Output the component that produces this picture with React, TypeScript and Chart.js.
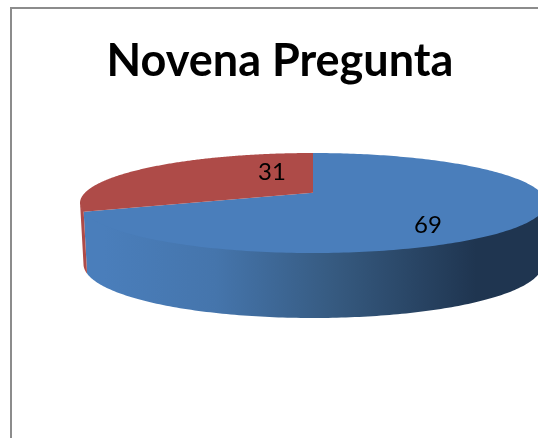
import React, { useEffect, useRef } from "react";
import { Chart, registerables } from "chart.js";

Chart.register(...registerables);

const categories = ["1", "2"];
const seriesValues = [69, 31];
const sliceColors = ["#4a7ebb", "#ae4b48"];
const wallStops = [
  ["#4a7ebb", "#4575ac", "#365a80", "#1f3550"],
  ["#ae4b48", "#a84845", "#8a3a38", "#6e2e2c"],
];
const wallStopOffsets = [0, 0.3, 0.62, 1];
const titleText = "Novena Pregunta";

const TILT = 0.21;
const PERSPECTIVE = 0.206;
const DEPTH_SIDE = 60;
const DEPTH_FRONT = 65;
const WALL_TAPER = 0.985;
const PIE_SHIFT_X = 33;
// label anchors as fractions of the disc's radii
const labelAnchors = [
  [0.504, 0.69],
  [-0.18, -0.43],
];

const pie3d = {
  id: "pie3d",
  beforeDatasetsDraw(chart: any) {
    const ctx = chart.ctx;
    const arcs = chart.getDatasetMeta(0).data;
    const first = arcs[0];
    const cx = first.x + PIE_SHIFT_X;
    const cy = first.y;
    const rx = first.outerRadius;
    const ry = rx * TILT;
    const proj = (t: number) => {
      const u = Math.cos(t);
      const v = Math.sin(t);
      const w = 1 - PERSPECTIVE * v;
      return [cx + (rx * u) / w, cy + (ry * v) / w];
    };
    const lo = Math.asin(PERSPECTIVE);
    const hi = Math.PI - lo;
    const extent = rx / Math.sqrt(1 - PERSPECTIVE * PERSPECTIVE);

    // side wall
    arcs.forEach((arc: any, i: number) => {
      const a = Math.max(arc.startAngle, lo);
      const b = Math.min(arc.endAngle, hi);
      if (b <= a) return;
      const g = ctx.createLinearGradient(cx - extent * 0.9, 0, cx + extent * 0.7, 0);
      wallStopOffsets.forEach((o, s) => g.addColorStop(o, wallStops[i][s]));
      ctx.beginPath();
      const n = 160;
      for (let k = 0; k <= n; k++) {
        const [x, y] = proj(a + ((b - a) * k) / n);
        k ? ctx.lineTo(x, y - 1) : ctx.moveTo(x, y - 1);
      }
      for (let k = n; k >= 0; k--) {
        const t = a + ((b - a) * k) / n;
        const [x, y] = proj(t);
        ctx.lineTo(
          cx + (x - cx) * WALL_TAPER,
          y + DEPTH_SIDE + (DEPTH_FRONT - DEPTH_SIDE) * Math.sin(t)
        );
      }
      ctx.closePath();
      ctx.fillStyle = g;
      ctx.fill();
    });

    // top face
    arcs.forEach((arc: any) => {
      ctx.beginPath();
      ctx.moveTo(cx, cy);
      const n = 240;
      for (let k = 0; k <= n; k++) {
        const [x, y] = proj(arc.startAngle + ((arc.endAngle - arc.startAngle) * k) / n);
        ctx.lineTo(x, y);
      }
      ctx.closePath();
      ctx.fillStyle = arc.options.backgroundColor;
      ctx.fill();
    });

    // value labels
    ctx.fillStyle = "#000000";
    ctx.font = '24px Lato, "Open Sans", sans-serif';
    ctx.textAlign = "center";
    ctx.textBaseline = "middle";
    arcs.forEach((_: any, i: number) => {
      const [ax, ay] = labelAnchors[i];
      ctx.fillText(String(seriesValues[i]), cx + rx * ax, cy + ry * ay);
    });
    return false;
  },
};

export default function App() {
  const ref = useRef<HTMLCanvasElement>(null);
  useEffect(() => {
    document.body.style.margin = "0";
    document.body.style.overflow = "hidden";
    const chart = new Chart(ref.current!, {
      type: "pie",
      data: {
        labels: categories,
        datasets: [{ data: seriesValues, backgroundColor: sliceColors, borderWidth: 0 }],
      },
      options: {
        animation: false,
        responsive: false,
        radius: 228,
        layout: { padding: { left: 0, right: 0, top: 0, bottom: 141.6 } },
        plugins: {
          legend: { display: false },
          tooltip: { enabled: false },
          title: {
            display: true,
            text: titleText,
            color: "#000000",
            font: { family: 'Lato, "Open Sans", sans-serif', size: 45, weight: "bold" },
            padding: { top: 26, bottom: 1 },
          },
        },
      },
      plugins: [pie3d],
    } as any);
    return () => chart.destroy();
  }, []);
  return (
    <div style={{ position: "relative", width: 538, height: 438, overflow: "hidden", background: "#fff" }}>
      <div
        style={{
          position: "absolute",
          left: 10,
          top: 7,
          width: 540,
          height: 440,
          borderLeft: "2px solid #8c8c8c",
          borderTop: "2px solid #8c8c8c",
        }}
      />
      <canvas
        ref={ref}
        width={538}
        height={430}
        style={{ position: "absolute", left: 11, top: 8, display: "block" }}
      />
    </div>
  );
}
